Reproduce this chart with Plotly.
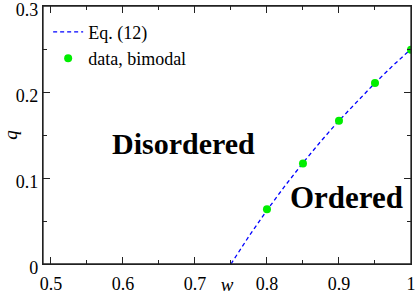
import plotly.graph_objects as go

# Eq. (12) curve
eq_w = [0.75, 0.775, 0.8, 0.825, 0.85, 0.875, 0.9, 0.925, 0.95, 0.975, 1.0]
eq_q = [0.0, 0.0323, 0.0625, 0.0909, 0.1176, 0.1429, 0.1667, 0.1892, 0.2105, 0.2308, 0.25]

# data, bimodal
data_w = [0.8, 0.85, 0.9, 0.95, 1.0]
data_q = [0.0636, 0.117, 0.1667, 0.2105, 0.249]

x_ticks = [0.5, 0.6, 0.7, 0.8, 0.9, 1.0]
x_ticklabels = ["0.5", "0.6", "0.7", "0.8", "0.9", "1"]
y_ticks = [0, 0.1, 0.2, 0.3]
y_ticklabels = ["0", "0.1", "0.2", "0.3"]

font_family = "Times New Roman"

fig = go.Figure()
fig.add_trace(go.Scatter(x=eq_w, y=eq_q, mode="lines", name="Eq. (12)",
                         line=dict(color="#0000ff", width=1.3, dash="4px,3px")))
fig.add_trace(go.Scatter(x=data_w, y=data_q, mode="markers", name="data, bimodal",
                         marker=dict(color="#00ee00", size=8)))

fig.add_annotation(x=0.684, y=0.140, text="<b>Disordered</b>", showarrow=False,
                   font=dict(family=font_family, size=30, color="black"))
fig.add_annotation(x=0.910, y=0.077, text="<b>Ordered</b>", showarrow=False,
                   font=dict(family=font_family, size=31, color="black"))

# frame around the plotting area
fig.add_shape(type="rect", xref="paper", yref="paper", x0=0, y0=0, x1=1, y1=1,
              line=dict(color="#222222", width=1.3), fillcolor="rgba(0,0,0,0)", layer="above")

axis_common = dict(showgrid=False, zeroline=False, showline=True, linecolor="#222222",
                   linewidth=1.3, ticks="inside", ticklen=7, tickcolor="#222222",
                   mirror="allticks", automargin=False, ticklabeloverflow="allow",
                   tickfont=dict(family=font_family, size=18, color="black"))

fig.update_xaxes(range=[0.489, 1.0], tickvals=x_ticks, ticktext=x_ticklabels,
                 minor=dict(ticks="inside", ticklen=4, dtick=0.05, tick0=0.5, tickcolor="#222222"),
                 ticklabelstandoff=3,
                 title=dict(text="<i>w</i>", font=dict(family=font_family, size=19, color="black")),
                 **axis_common)
fig.update_yaxes(range=[0, 0.3], tickvals=y_ticks, ticktext=y_ticklabels,
                 minor=dict(ticks="inside", ticklen=4, dtick=0.05, tick0=0, tickcolor="#222222"),
                 ticklabelshift=4,
                 title=dict(text="<i>q</i>", font=dict(family=font_family, size=19, color="black")),
                 **axis_common)

fig.update_layout(
    width=415, height=295,
    margin=dict(l=43, r=4, t=6, b=31),
    paper_bgcolor="white", plot_bgcolor="white",
    font=dict(family=font_family, size=18, color="black"),
    legend=dict(x=0.014, y=0.97, xanchor="left", yanchor="top",
                bgcolor="rgba(0,0,0,0)", font=dict(family=font_family, size=18),
                itemwidth=30, tracegroupgap=0),
    showlegend=True,
)

fig.write_html("out.html", config={"displayModeBar": False},
               post_script="document.body.style.margin='0';")
